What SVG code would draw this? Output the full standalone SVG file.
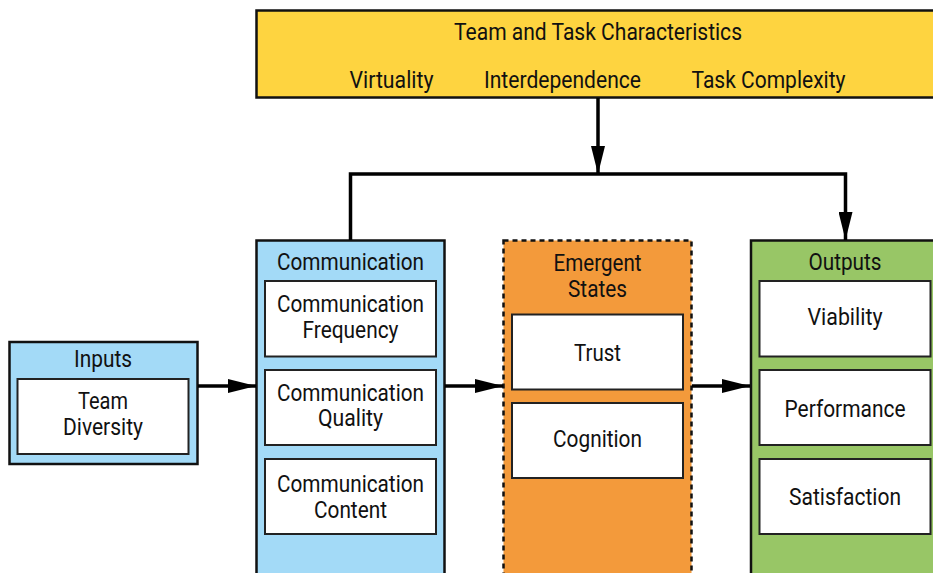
<svg xmlns="http://www.w3.org/2000/svg" width="933" height="573" viewBox="0 0 933 573">
  <defs>
    <marker id="arrow" viewBox="0 0 28 14" refX="28" refY="7" markerWidth="28" markerHeight="14" markerUnits="userSpaceOnUse" orient="auto">
      <path d="M0,0 L28,7 L0,14 Z" fill="#000"/>
    </marker>
    <style>
      text { font-family: Roboto, "Liberation Sans", sans-serif; font-size: 23px; fill: #111; text-anchor: middle; }
      .outer { stroke: #111; stroke-width: 2.5; }
      .inner { fill: #fff; stroke: #222; stroke-width: 2; }
      .dashed { stroke-dasharray: 5 4; }
      .blue { fill: #A3DAF7; }
      .yellow { fill: #FED440; }
      .orange { fill: #F39A3B; }
      .green { fill: #98C666; }
      .conn { fill: none; stroke: #000; stroke-width: 3.5; }
    </style>
  </defs>

  <rect width="933" height="573" fill="#fff"/>

  <!-- Moderators across the top -->
  <g id="characteristics">
    <rect class="outer yellow" x="256.5" y="10.5" width="690" height="87"/>
    <text x="598" y="40" textLength="288" lengthAdjust="spacingAndGlyphs">Team and Task Characteristics</text>
    <text x="391.5" y="88" textLength="84" lengthAdjust="spacingAndGlyphs">Virtuality</text>
    <text x="562.5" y="88" textLength="157" lengthAdjust="spacingAndGlyphs">Interdependence</text>
    <text x="768.5" y="88" textLength="154" lengthAdjust="spacingAndGlyphs">Task Complexity</text>
  </g>

  <g id="inputs">
    <rect class="outer blue" x="9.5" y="342" width="188" height="122"/>
    <text x="103" y="367" textLength="58" lengthAdjust="spacingAndGlyphs">Inputs</text>
    <rect class="inner" x="17.5" y="379" width="171" height="75"/>
    <text x="103" y="409" textLength="50" lengthAdjust="spacingAndGlyphs">Team</text>
    <text x="103" y="435" textLength="80" lengthAdjust="spacingAndGlyphs">Diversity</text>
  </g>

  <g id="communication">
    <rect class="outer blue" x="256.5" y="240.5" width="188" height="345"/>
    <text x="350.5" y="270" textLength="147" lengthAdjust="spacingAndGlyphs">Communication</text>
    <rect class="inner" x="265" y="281" width="171" height="75.5"/>
    <text x="350.5" y="311.5" textLength="147" lengthAdjust="spacingAndGlyphs">Communication</text>
    <text x="350.5" y="337.5" textLength="96" lengthAdjust="spacingAndGlyphs">Frequency</text>
    <rect class="inner" x="265" y="370" width="171" height="75"/>
    <text x="350.5" y="400.5" textLength="147" lengthAdjust="spacingAndGlyphs">Communication</text>
    <text x="350.5" y="426" textLength="65" lengthAdjust="spacingAndGlyphs">Quality</text>
    <rect class="inner" x="265" y="459" width="171" height="75"/>
    <text x="350.5" y="491.5" textLength="147" lengthAdjust="spacingAndGlyphs">Communication</text>
    <text x="350.5" y="517.5" textLength="73" lengthAdjust="spacingAndGlyphs">Content</text>
  </g>

  <g id="emergent-states">
    <rect class="outer dashed orange" x="503.5" y="240.5" width="188" height="345"/>
    <text x="597.5" y="270.5" textLength="88" lengthAdjust="spacingAndGlyphs">Emergent</text>
    <text x="597.5" y="296.5" textLength="59" lengthAdjust="spacingAndGlyphs">States</text>
    <rect class="inner" x="512" y="314.5" width="171" height="75"/>
    <text x="597.5" y="360.5" textLength="47" lengthAdjust="spacingAndGlyphs">Trust</text>
    <rect class="inner" x="512" y="403" width="171" height="75"/>
    <text x="597.5" y="446.5" textLength="89" lengthAdjust="spacingAndGlyphs">Cognition</text>
  </g>

  <g id="outputs">
    <rect class="outer green" x="751" y="240.5" width="200" height="345"/>
    <text x="845" y="270" textLength="73" lengthAdjust="spacingAndGlyphs">Outputs</text>
    <rect class="inner" x="759.5" y="281" width="171" height="75.5"/>
    <text x="845" y="325" textLength="75" lengthAdjust="spacingAndGlyphs">Viability</text>
    <rect class="inner" x="759.5" y="370" width="171" height="75"/>
    <text x="845" y="416.5" textLength="121" lengthAdjust="spacingAndGlyphs">Performance</text>
    <rect class="inner" x="759.5" y="459" width="171" height="75"/>
    <text x="845" y="505" textLength="112" lengthAdjust="spacingAndGlyphs">Satisfaction</text>
  </g>

  <g id="connectors">
    <line class="conn" x1="598" y1="98" x2="598" y2="174" marker-end="url(#arrow)"/>
    <polyline class="conn" points="350.5,240 350.5,174 845.5,174 845.5,240" marker-end="url(#arrow)"/>
    <line class="conn" x1="198" y1="386" x2="256" y2="386" marker-end="url(#arrow)"/>
    <line class="conn" x1="445" y1="386" x2="503" y2="386" marker-end="url(#arrow)"/>
    <line class="conn" x1="692" y1="386" x2="750" y2="386" marker-end="url(#arrow)"/>
  </g>
</svg>
